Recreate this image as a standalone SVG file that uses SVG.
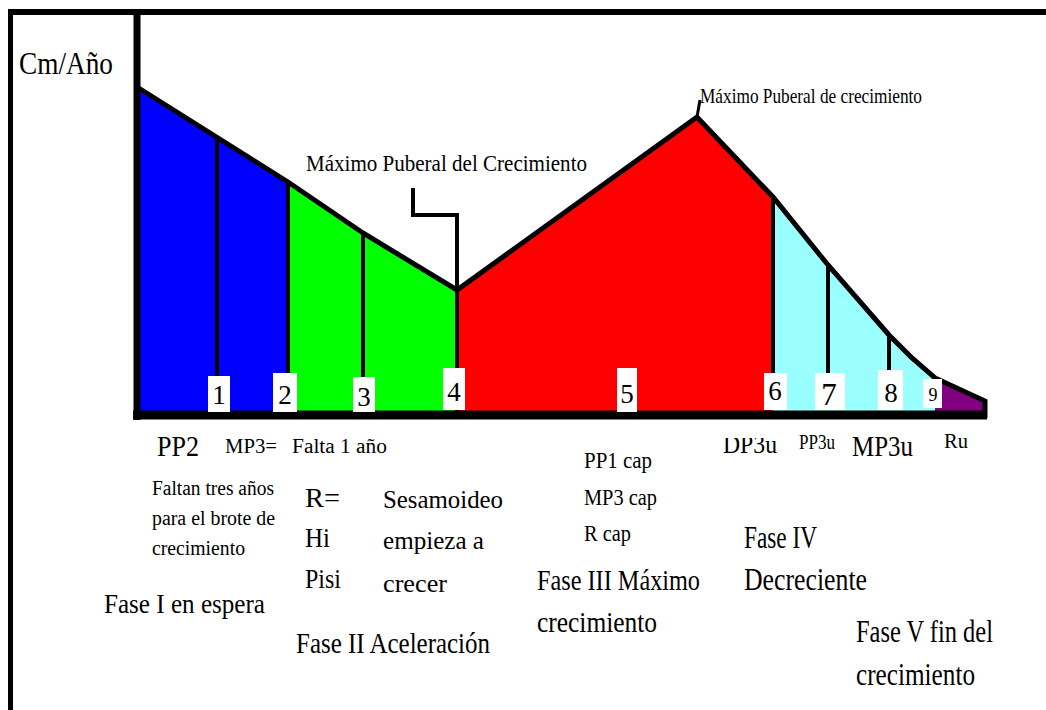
<svg xmlns="http://www.w3.org/2000/svg" width="1046" height="710" viewBox="0 0 1046 710">
<style>
text{font-family:"Liberation Serif","Times New Roman",serif;fill:#000}
.ln{stroke:#000;fill:none;stroke-linejoin:miter}
.div{stroke:#000;stroke-width:4;fill:none}
.box{fill:#fff}
.num{font-size:27px;text-anchor:middle}
</style>
<defs>
<clipPath id="cut"><rect x="700" y="438" width="100" height="30"/></clipPath>
</defs>
<rect x="0" y="0" width="1046" height="710" fill="#fff"/>
<g id="frame">
<line x1="8" y1="12" x2="1046" y2="12" stroke="#000" stroke-width="6"/>
<line x1="10.5" y1="9" x2="10.5" y2="710" stroke="#000" stroke-width="5"/>
</g>
<g id="regions">
<polygon id="fase1" points="137,87 288,182 288,413 137,413" fill="#0000ff"/>
<polygon id="fase2" points="288,182 363,233 457,290 457,413 288,413" fill="#00ff00"/>
<polygon id="fase3" points="457,290 697,117 773,197 773,413 457,413" fill="#ff0000"/>
<polygon id="fase4" points="773,197 828,265 889,335 912,358 935,378 935,413 773,413" fill="#99ffff"/>
<polygon id="fase5" points="935,378 985,401 985,413 935,413" fill="#800080"/>
</g>
<g id="connectors">
<path class="ln" stroke-width="5" d="M137,87 L288,182 L363,233 L457,290 L697,117 L773,197 L828,265 L889,335 L912,358 L935,378 L985,401 L985,418"/>
<line class="div" x1="217" y1="137" x2="217" y2="380"/>
<line class="div" x1="288" y1="182" x2="288" y2="380"/>
<line class="div" x1="363" y1="233" x2="363" y2="385"/>
<line class="div" x1="457" y1="290" x2="457" y2="413" stroke-width="5"/>
<line class="div" x1="773" y1="197" x2="773" y2="380"/>
<line class="div" x1="828" y1="265" x2="828" y2="380"/>
<line class="div" x1="889" y1="335" x2="889" y2="375"/>
<path class="ln" stroke-width="4" d="M413,188 L413,215 L457,215 L457,290"/>
<line x1="697" y1="117" x2="700" y2="100" stroke="#000" stroke-width="3"/>
<line x1="137" y1="15" x2="137" y2="420" stroke="#000" stroke-width="7"/>
<line x1="133" y1="415" x2="987" y2="415" stroke="#000" stroke-width="9"/>
</g>
<g id="n1"><rect class="box" x="208" y="376" width="22" height="36"/><text class="num" x="219" y="404">1</text></g>
<g id="n2"><rect class="box" x="273" y="373" width="24" height="39"/><text class="num" x="285" y="404">2</text></g>
<g id="n3"><rect class="box" x="353" y="377" width="22" height="35"/><text class="num" x="364" y="406">3</text></g>
<g id="n4"><rect class="box" x="443" y="368" width="22" height="42"/><text class="num" x="454" y="401">4</text></g>
<g id="n5"><rect class="box" x="617" y="368" width="20" height="44"/><text class="num" x="627" y="403">5</text></g>
<g id="n6"><rect class="box" x="764" y="373" width="23" height="37"/><text class="num" x="775" y="400">6</text></g>
<g id="n7"><rect class="box" x="815" y="373" width="30" height="37"/><text class="num" x="829" y="405" style="font-size:31px">7</text></g>
<g id="n8"><rect class="box" x="878" y="370" width="25" height="40"/><text class="num" x="891" y="402">8</text></g>
<g id="n9"><rect class="box" x="923" y="379" width="19" height="29"/><text class="num" x="933" y="401" style="font-size:18px">9</text></g>
<g id="labels" font-family="Liberation Serif, Times New Roman, serif">
<text x="19" y="74" font-size="31" textLength="94" lengthAdjust="spacingAndGlyphs">Cm/Año</text>
<text x="306" y="171" font-size="24" textLength="281" lengthAdjust="spacingAndGlyphs">Máximo Puberal del Crecimiento</text>
<text x="700" y="103" font-size="21" textLength="222" lengthAdjust="spacingAndGlyphs">Máximo Puberal de crecimiento</text>
<text x="157" y="456" font-size="30" textLength="42" lengthAdjust="spacingAndGlyphs">PP2</text>
<text x="225" y="453" font-size="20" textLength="52" lengthAdjust="spacingAndGlyphs">MP3=</text>
<text x="292" y="453" font-size="20" textLength="95" lengthAdjust="spacingAndGlyphs">Falta 1 año</text>
<text x="152" y="495" font-size="20" textLength="122" lengthAdjust="spacingAndGlyphs">Faltan tres años</text>
<text x="152" y="525" font-size="20" textLength="123" lengthAdjust="spacingAndGlyphs">para el brote de</text>
<text x="152" y="555" font-size="20" textLength="93" lengthAdjust="spacingAndGlyphs">crecimiento</text>
<text x="305" y="507" font-size="27" textLength="35" lengthAdjust="spacingAndGlyphs">R=</text>
<text x="305" y="547" font-size="27" textLength="25" lengthAdjust="spacingAndGlyphs">Hi</text>
<text x="305" y="588" font-size="27" textLength="36" lengthAdjust="spacingAndGlyphs">Pisi</text>
<text x="383" y="508" font-size="26" textLength="120" lengthAdjust="spacingAndGlyphs">Sesamoideo</text>
<text x="383" y="549" font-size="26" textLength="101" lengthAdjust="spacingAndGlyphs">empieza a</text>
<text x="383" y="592" font-size="26" textLength="64" lengthAdjust="spacingAndGlyphs">crecer</text>
<text x="104" y="613" font-size="27" textLength="161" lengthAdjust="spacingAndGlyphs">Fase I en espera</text>
<text x="296" y="653" font-size="30" textLength="194" lengthAdjust="spacingAndGlyphs">Fase II Aceleración</text>
<text x="584" y="468" font-size="24" textLength="68" lengthAdjust="spacingAndGlyphs">PP1 cap</text>
<text x="584" y="505" font-size="24" textLength="73" lengthAdjust="spacingAndGlyphs">MP3 cap</text>
<text x="584" y="541" font-size="24" textLength="47" lengthAdjust="spacingAndGlyphs">R cap</text>
<text x="537" y="590" font-size="30" textLength="163" lengthAdjust="spacingAndGlyphs">Fase III Máximo</text>
<text x="537" y="632" font-size="30" textLength="120" lengthAdjust="spacingAndGlyphs">crecimiento</text>
<text x="723" y="453" font-size="25" textLength="54" lengthAdjust="spacingAndGlyphs" clip-path="url(#cut)">DP3u</text>
<text x="799" y="449" font-size="21" textLength="36" lengthAdjust="spacingAndGlyphs">PP3u</text>
<text x="852" y="456" font-size="30" textLength="61" lengthAdjust="spacingAndGlyphs">MP3u</text>
<text x="944" y="448" font-size="21" textLength="24" lengthAdjust="spacingAndGlyphs">Ru</text>
<text x="744" y="548" font-size="31" textLength="73" lengthAdjust="spacingAndGlyphs">Fase IV</text>
<text x="744" y="590" font-size="31" textLength="123" lengthAdjust="spacingAndGlyphs">Decreciente</text>
<text x="856" y="642" font-size="31" textLength="137" lengthAdjust="spacingAndGlyphs">Fase V fin del</text>
<text x="856" y="685" font-size="31" textLength="119" lengthAdjust="spacingAndGlyphs">crecimiento</text>
</g>
</svg>
